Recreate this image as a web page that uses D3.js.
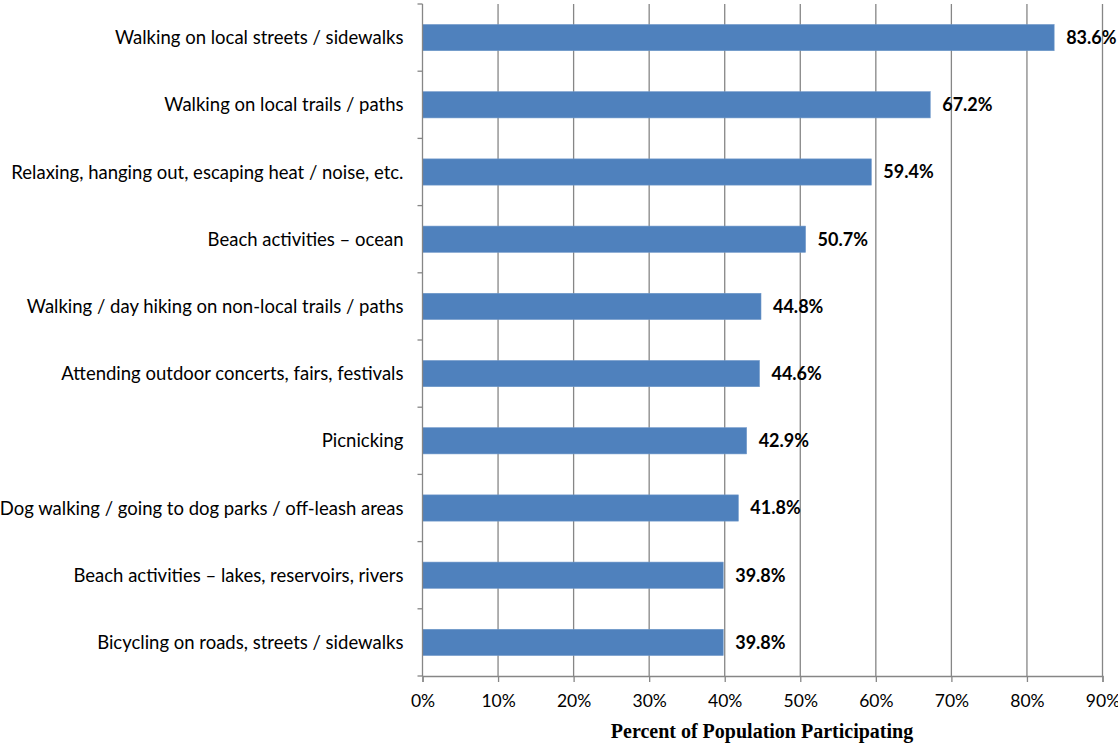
<!DOCTYPE html>
<html>
<head>
<meta charset="utf-8">
<script src="https://cdn.jsdelivr.net/npm/d3@7"></script>
<style>
  body { margin: 0; background: #fff; }
  svg { display: block; }
</style>
</head>
<body>
<svg width="1118" height="743"></svg>
<script>
// activities, top to bottom
var categories = [
  "Walking on local streets / sidewalks",
  "Walking on local trails / paths",
  "Relaxing, hanging out, escaping heat / noise, etc.",
  "Beach activities \u2013 ocean",
  "Walking / day hiking on non-local trails / paths",
  "Attending outdoor concerts, fairs, festivals",
  "Picnicking",
  "Dog walking / going to dog parks / off-leash areas",
  "Beach activities \u2013 lakes, reservoirs, rivers",
  "Bicycling on roads, streets / sidewalks"
];
var values = [83.6, 67.2, 59.4, 50.7, 44.8, 44.6, 42.9, 41.8, 39.8, 39.8];
var xTicks = [0, 10, 20, 30, 40, 50, 60, 70, 80, 90];

var svg = d3.select("svg");
var plotLeft = 422.5, plotRight = 1102.5, plotTop = 4, plotBottom = 676;
var font = "Lato, 'Open Sans', sans-serif";
var grey = "#868686";

var x = d3.scaleLinear().domain([0, 90]).range([plotLeft, plotRight]);
var y = d3.scaleBand().domain(categories).range([plotTop, plotBottom]).paddingInner(0.61).paddingOuter(0.305);
var band = d3.scaleBand().domain(categories).range([plotTop, plotBottom]);

// vertical gridlines
svg.append("g")
  .selectAll("line")
  .data(xTicks.slice(1))
  .enter()
  .append("line")
    .attr("x1", function(d) { return x(d); })
    .attr("x2", function(d) { return x(d); })
    .attr("y1", plotTop)
    .attr("y2", plotBottom)
    .attr("stroke", grey)
    .attr("stroke-width", 1.3);

// bars
svg.append("g")
  .selectAll("rect")
  .data(values)
  .enter()
  .append("rect")
    .attr("x", x(0))
    .attr("y", function(d, i) { return y(categories[i]); })
    .attr("width", function(d) { return x(d) - x(0); })
    .attr("height", y.bandwidth())
    .attr("fill", "#4F81BD")
    .attr("stroke", "#6E97C8")
    .attr("stroke-width", 0.6);

// value labels
svg.append("g")
  .selectAll("text")
  .data(values)
  .enter()
  .append("text")
    .attr("x", function(d) { return x(d) + 12; })
    .attr("y", function(d, i) { return y(categories[i]) + y.bandwidth() / 2; })
    .attr("dy", "0.36em")
    .attr("font-family", font)
    .attr("font-size", 18)
    .attr("font-weight", "bold")
    .attr("fill", "#000")
    .text(function(d) { return d.toFixed(1) + "%"; });

// y axis line + category ticks
var yAxisG = svg.append("g");
yAxisG.append("line")
  .attr("x1", plotLeft).attr("x2", plotLeft)
  .attr("y1", plotTop).attr("y2", plotBottom)
  .attr("stroke", grey).attr("stroke-width", 1.3);
yAxisG.selectAll("line.tick")
  .data(categories)
  .enter()
  .append("line")
    .attr("class", "tick")
    .attr("x1", plotLeft - 5).attr("x2", plotLeft)
    .attr("y1", function(d) { return band(d); })
    .attr("y2", function(d) { return band(d); })
    .attr("stroke", grey).attr("stroke-width", 1.3);
yAxisG.append("line")
  .attr("x1", plotLeft - 5).attr("x2", plotLeft)
  .attr("y1", plotBottom).attr("y2", plotBottom)
  .attr("stroke", grey).attr("stroke-width", 1.3);
yAxisG.selectAll("text")
  .data(categories)
  .enter()
  .append("text")
    .attr("x", plotLeft - 19)
    .attr("y", function(d) { return band(d) + band.bandwidth() / 2; })
    .attr("dy", "0.36em")
    .attr("text-anchor", "end")
    .attr("font-family", font)
    .attr("font-size", 18.5)
    .attr("fill", "#000")
    .text(function(d) { return d; });

// x axis
var xAxis = svg.append("g")
  .attr("transform", "translate(0," + plotBottom + ")")
  .call(d3.axisBottom(x).tickValues(xTicks).tickSize(6)
    .tickFormat(function(d) { return d + "%"; }));
xAxis.select(".domain").attr("stroke", grey).attr("stroke-width", 1.3);
xAxis.selectAll(".tick line").attr("stroke", grey).attr("stroke-width", 1.3);
xAxis.selectAll(".tick text")
  .attr("y", 31)
  .attr("dy", 0)
  .attr("font-family", font)
  .attr("font-size", 17.5)
  .attr("fill", "#000");

// axis title
svg.append("text")
  .attr("x", 762)
  .attr("y", 738)
  .attr("text-anchor", "middle")
  .attr("font-family", "'Liberation Serif', 'Times New Roman', serif")
  .attr("font-size", 20)
  .attr("font-weight", "bold")
  .text("Percent of Population Participating");
</script>
</body>
</html>
